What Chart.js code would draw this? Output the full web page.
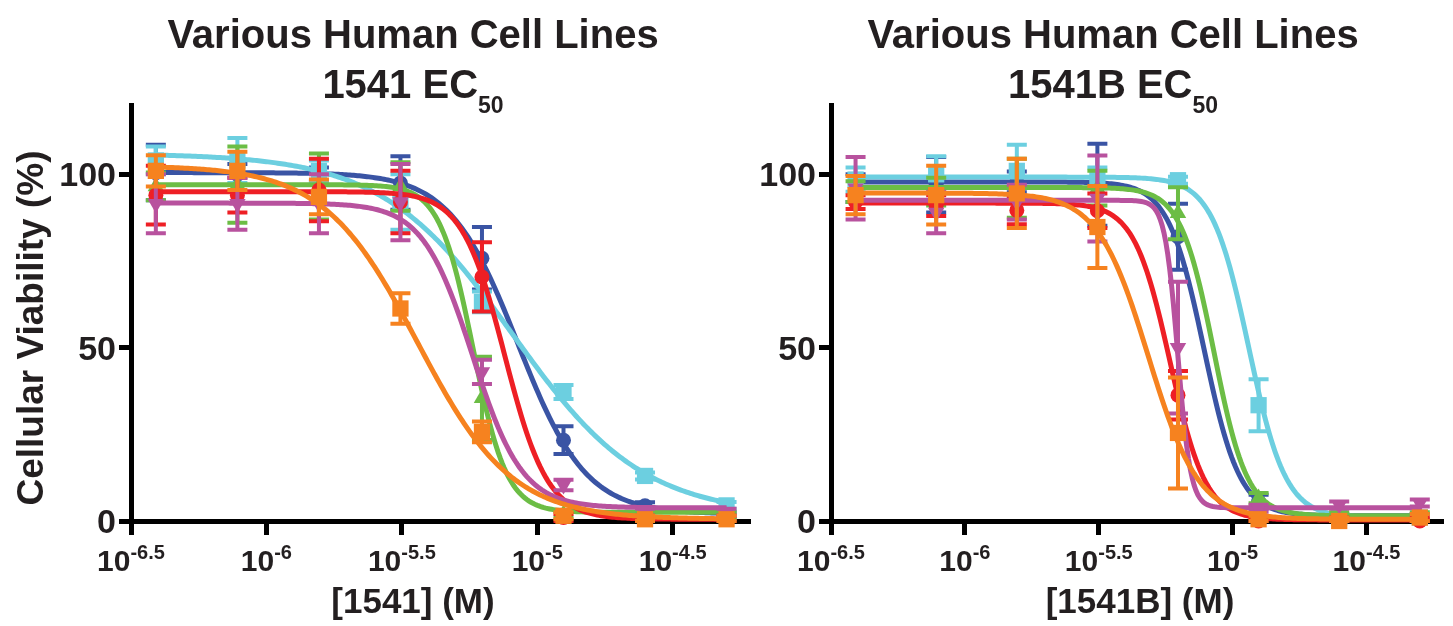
<!DOCTYPE html>
<html>
<head>
<meta charset="utf-8">
<title>Various Human Cell Lines - 1541 / 1541B EC50</title>
<script src="https://cdn.jsdelivr.net/npm/chart.js@4.4.1/dist/chart.umd.min.js"></script>
<style>
  body { margin: 0; background: #fff; }
  #wrap { position: relative; width: 1453px; height: 626px; overflow: hidden; }
  canvas { position: absolute; top: 0; }
  #c1541 { left: 0; }
  #c1541B { left: 700px; }
</style>
</head>
<body>
<div id="wrap">
  <canvas id="c1541" width="760" height="626"></canvas>
  <canvas id="c1541B" width="753" height="626"></canvas>
</div>
<script>
// concentrations (M), 2-fold dilutions
const concentrations = [3.906e-7, 7.813e-7, 1.563e-6, 3.125e-6, 6.25e-6, 1.25e-5, 2.5e-5, 5e-5];
const xTickExponents = [-6.5, -6, -5.5, -5, -4.5];
const yTicks = [0, 50, 100];

const seriesColors = ['#3a54a4', '#6ccfe0', '#6cbd45', '#ee1f25', '#b8529e', '#f6821f'];
const seriesShapes = ['circle', 'rect', 'triangle', 'circle', 'triangleDown', 'rect'];

// 1541 - mean viability (%) and error
const blue1541 = [100.5, 100, 100, 97.5, 75.8, 23.3, 4.4, 1.5];
const cyan1541 = [104, 104, 101, 92, 63.2, 37.2, 13, 4.5];
const green1541 = [96.5, 97, 96.5, 96.5, 35.4, 2, 1.5, 1.5];
const red1541 = [94, 94, 95.5, 92, 70.4, 1, 0.5, 0.5];
const magenta1541 = [91.5, 91.5, 91.5, 92, 43, 10.4, 2.5, 2.5];
const orange1541 = [101, 101, 93.5, 61.3, 25.7, 1.5, 0.5, 0.5];

const blue1541Err = [8, 3, 2, 7.7, 9, 4, 1, 1];
const cyan1541Err = [4, 6.5, 3, 8, 3, 2, 1, 1];
const green1541Err = [4, 11, 9.5, 7, 12, 1, 1, 1];
const red1541Err = [8.5, 5, 9, 9, 10, 1, 1, 1];
const magenta1541Err = [8.5, 7.5, 8.5, 11, 3.5, 1.5, 1, 1];
const orange1541Err = [4.5, 5.5, 5, 4.4, 3, 1, 1, 1];

// 1541 - fitted curves (top, bottom, logEC50, hill)
const fitTop1541 = [100.5, 106, 97, 95, 91.7, 102.5];
const fitBottom1541 = [2, 1.5, 2.5, 0.5, 3.8, 0.5];
const fitLogEC501541 = [-5.072, -5.09, -5.237, -5.12, -5.239, -5.442];
const fitHill1541 = [3.45, 1.8, 7, 5.5, 4.7, 2.5];

// 1541B
const blue1541B = [96, 97, 97.8, 97, 82, 5.6, 1, 1];
const cyan1541B = [98.5, 100, 101, 99, 98.3, 33.4, 1, 1];
const green1541B = [95, 95, 96, 96, 88.8, 6.6, 1.5, 1.5];
const red1541B = [92, 91, 89.6, 89.5, 36.3, 0, 0, 0];
const magenta1541B = [96, 89, 92, 93, 50, 3.7, 4.6, 5.2];
const orange1541B = [94, 94, 94.5, 84.8, 25.4, 0.5, 0, 1];

const blue1541BErr = [4, 8, 3, 11.8, 9.5, 2, 1, 1];
const cyan1541BErr = [3.5, 5.2, 7.5, 3, 1, 7.5, 1, 1];
const green1541BErr = [3, 4, 8.5, 5, 7.5, 1.5, 1, 1];
const red1541BErr = [2, 3, 4, 5, 7, 1, 1, 1];
const magenta1541BErr = [9, 6, 5, 12.4, 19, 1, 1, 1];
const orange1541BErr = [5.5, 8.5, 10, 11.8, 16, 1, 1, 1];

const fitTop1541B = [97.8, 99.2, 96.2, 91.7, 92.5, 94.6];
const fitBottom1541B = [1.5, 1, 1.5, 0.3, 3.8, 0.5];
const fitLogEC501541B = [-5.107, -4.94, -5.07, -5.234, -5.205, -5.315];
const fitHill1541B = [6.5, 6.3, 7, 6.5, 18, 4.6];

const FONT = '"Liberation Sans", Arial, sans-serif';
const INK = '#231f20';

// sigmoidal dose-response fit drawn over the data range
function curvePoints(top, bottom, logEC50, hill) {
  const lo = Math.log10(concentrations[0]);
  const hi = Math.log10(concentrations[concentrations.length - 1]);
  const pts = [];
  for (let k = 0; k <= 300; k++) {
    const lx = lo + (hi - lo) * k / 300;
    pts.push({ x: Math.pow(10, lx), y: bottom + (top - bottom) / (1 + Math.pow(10, (lx - logEC50) * hill)) });
  }
  return pts;
}

// error bars, drawn right before each scatter dataset
const errorBars = {
  id: 'errorBars',
  beforeDatasetDraw(chart, args) {
    const ds = chart.data.datasets[args.index];
    if (!ds.errors) return;
    const ctx = chart.ctx, xs = chart.scales.x, ys = chart.scales.y;
    ctx.save();
    ctx.strokeStyle = ds.pointBackgroundColor;
    ctx.lineWidth = 4;
    ds.data.forEach((p, j) => {
      const e = ds.errors[j];
      const x = xs.getPixelForValue(p.x);
      const y1 = ys.getPixelForValue(p.y + e);
      const y2 = ys.getPixelForValue(Math.max(p.y - e, 0));
      ctx.beginPath();
      ctx.moveTo(x, y1); ctx.lineTo(x, y2);
      ctx.moveTo(x - 10, y1); ctx.lineTo(x + 10, y1);
      ctx.moveTo(x - 10, y2); ctx.lineTo(x + 10, y2);
      ctx.stroke();
    });
    ctx.restore();
  }
};

// titles, tick labels with superscripts, axis titles
const panelText = {
  id: 'panelText',
  afterDraw(chart, args, o) {
    const ctx = chart.ctx, xs = chart.scales.x, ys = chart.scales.y;
    ctx.save();
    ctx.fillStyle = INK;
    ctx.textBaseline = 'alphabetic';

    ctx.textAlign = 'center';
    ctx.font = 'bold 40px ' + FONT;
    ctx.fillText('Various Human Cell Lines', o.titleX, 48);

    const main = o.compound + ' EC';
    ctx.font = 'bold 40px ' + FONT;
    const w1 = ctx.measureText(main).width;
    ctx.font = 'bold 23px ' + FONT;
    const w2 = ctx.measureText('50').width;
    const x0 = o.titleX - (w1 + w2) / 2;
    ctx.textAlign = 'left';
    ctx.font = 'bold 40px ' + FONT;
    ctx.fillText(main, x0, 98);
    ctx.font = 'bold 23px ' + FONT;
    ctx.fillText('50', x0 + w1, 113);

    ctx.textAlign = 'right';
    ctx.font = 'bold 34px ' + FONT;
    yTicks.forEach(v => ctx.fillText(String(v), xs.left - 15, ys.getPixelForValue(v) + 12));

    ctx.textAlign = 'left';
    xTickExponents.forEach(e => {
      const x = xs.getPixelForValue(Math.pow(10, e));
      const sup = String(e);
      ctx.font = 'bold 30px ' + FONT;
      const bw = ctx.measureText('10').width;
      ctx.font = 'bold 20px ' + FONT;
      const sw = ctx.measureText(sup).width;
      const start = x - (bw + sw) / 2;
      ctx.font = 'bold 30px ' + FONT;
      ctx.fillText('10', start, 571);
      ctx.font = 'bold 20px ' + FONT;
      ctx.fillText(sup, start + bw, 559);
    });

    ctx.textAlign = 'center';
    ctx.font = 'bold 35px ' + FONT;
    ctx.fillText('[' + o.compound + '] (M)', o.xTitleX, 613);

    if (o.yTitle) {
      ctx.translate(33, 328);
      ctx.rotate(-Math.PI / 2);
      ctx.textBaseline = 'middle';
      ctx.font = 'bold 37px ' + FONT;
      ctx.fillText(o.yTitle, 0, 0);
    }
    ctx.restore();
  }
};

function buildDatasets(means, errs, tops, bottoms, ec50s, hills) {
  const datasets = [];
  means.forEach((m, i) => {
    const color = seriesColors[i];
    const shape = seriesShapes[i];
    // later series on top
    datasets.push({
      type: 'line',
      data: curvePoints(tops[i], bottoms[i], ec50s[i], hills[i]),
      borderColor: color,
      borderWidth: 5,
      pointRadius: 0,
      fill: false,
      clip: false,
      order: 100 - i * 2
    });
    datasets.push({
      type: 'line',
      data: concentrations.map((c, j) => ({ x: c, y: m[j] })),
      errors: errs[i],
      showLine: false,
      pointStyle: shape === 'triangleDown' ? 'triangle' : shape,
      rotation: shape === 'triangleDown' ? 180 : 0,
      pointRadius: shape === 'rect' ? 11.5 : (shape === 'circle' ? 7.5 : 9.5),
      pointBackgroundColor: color,
      pointBorderWidth: 0,
      clip: false,
      order: 99 - i * 2
    });
  });
  return datasets;
}

function makeChart(id, datasets, text, padRight) {
  new Chart(document.getElementById(id), {
    data: { datasets: datasets },
    options: {
      responsive: false,
      animation: false,
      events: [],
      layout: { padding: { left: 119, right: padRight, top: 105, bottom: 91 } },
      plugins: { legend: { display: false }, tooltip: { enabled: false }, panelText: text },
      scales: {
        x: {
          type: 'logarithmic',
          min: Math.pow(10, -6.5),
          max: Math.pow(10, -4.22),
          afterBuildTicks: s => { s.ticks = xTickExponents.map(e => ({ value: Math.pow(10, e) })); },
          ticks: { display: false },
          grid: { drawOnChartArea: false, drawTicks: true, tickLength: 14, tickWidth: 5, tickColor: '#000', lineWidth: 5, color: '#000' },
          border: { display: true, width: 5, color: '#000' }
        },
        y: {
          type: 'linear',
          min: 0,
          max: 120,
          afterBuildTicks: s => { s.ticks = yTicks.map(v => ({ value: v })); },
          ticks: { display: false },
          grid: { drawOnChartArea: false, drawTicks: true, tickLength: 12, tickWidth: 5, tickColor: '#000', lineWidth: 5, color: '#000' },
          border: { display: true, width: 5, color: '#000' }
        }
      }
    },
    plugins: [errorBars, panelText]
  });
}

makeChart('c1541',
  buildDatasets(
    [blue1541, cyan1541, green1541, red1541, magenta1541, orange1541],
    [blue1541Err, cyan1541Err, green1541Err, red1541Err, magenta1541Err, orange1541Err],
    fitTop1541, fitBottom1541, fitLogEC501541, fitHill1541),
  { compound: '1541', titleX: 413, xTitleX: 413, yTitle: 'Cellular Viability (%)' }, 10);

makeChart('c1541B',
  buildDatasets(
    [blue1541B, cyan1541B, green1541B, red1541B, magenta1541B, orange1541B],
    [blue1541BErr, cyan1541BErr, green1541BErr, red1541BErr, magenta1541BErr, orange1541BErr],
    fitTop1541B, fitBottom1541B, fitLogEC501541B, fitHill1541B),
  { compound: '1541B', titleX: 413, xTitleX: 440, yTitle: null }, 1);
</script>
</body>
</html>
